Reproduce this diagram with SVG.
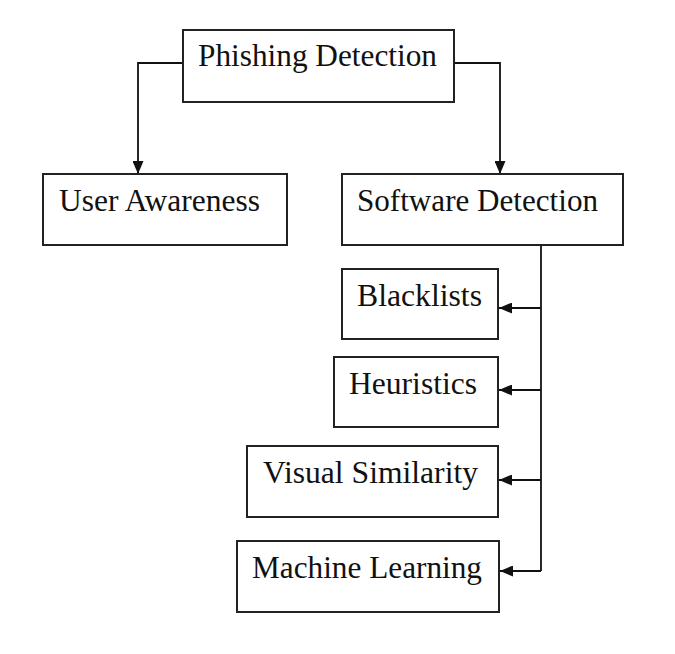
<svg xmlns="http://www.w3.org/2000/svg" width="675" height="654" viewBox="0 0 675 654">
<defs>
<marker id="ah" markerWidth="13" markerHeight="11" refX="13" refY="5.5" orient="auto" markerUnits="userSpaceOnUse">
<path d="M0,0 L13,5.5 L0,11 Z" fill="#111"/>
</marker>
<style>
.box{fill:#fff;stroke:#222;stroke-width:2}
.lbl{font-family:"Liberation Serif","Times New Roman",serif;font-size:32px;fill:#111}
.ln{fill:none;stroke:#111;stroke-width:1.8}
</style>
</defs>
<rect width="675" height="654" fill="#fff"/>
<g id="connectors">
<path class="ln" d="M183,63 H138 V174" marker-end="url(#ah)"/>
<path class="ln" d="M454,63 H500 V174" marker-end="url(#ah)"/>
<path class="ln" d="M541,245 V571"/>
<path class="ln" d="M541,308 H499" marker-end="url(#ah)"/>
<path class="ln" d="M541,390 H499" marker-end="url(#ah)"/>
<path class="ln" d="M541,480 H499" marker-end="url(#ah)"/>
<path class="ln" d="M541,571 H500" marker-end="url(#ah)"/>
</g>
<g id="phishing">
<rect class="box" x="183" y="30" width="271" height="72"/>
<text class="lbl" x="198" y="66" textLength="239" lengthAdjust="spacingAndGlyphs">Phishing Detection</text>
</g>
<g id="user">
<rect class="box" x="43" y="174" width="244" height="71"/>
<text class="lbl" x="59" y="211" textLength="201" lengthAdjust="spacingAndGlyphs">User Awareness</text>
</g>
<g id="software">
<rect class="box" x="342" y="174" width="281" height="71"/>
<text class="lbl" x="357" y="211" textLength="241" lengthAdjust="spacingAndGlyphs">Software Detection</text>
</g>
<g id="blacklists">
<rect class="box" x="342" y="269" width="156" height="70"/>
<text class="lbl" x="357" y="306" textLength="125" lengthAdjust="spacingAndGlyphs">Blacklists</text>
</g>
<g id="heuristics">
<rect class="box" x="334" y="357" width="164" height="70"/>
<text class="lbl" x="349" y="394" textLength="128" lengthAdjust="spacingAndGlyphs">Heuristics</text>
</g>
<g id="visual">
<rect class="box" x="247" y="446" width="251" height="71"/>
<text class="lbl" x="263" y="483" textLength="215" lengthAdjust="spacingAndGlyphs">Visual Similarity</text>
</g>
<g id="machine">
<rect class="box" x="237" y="541" width="262" height="71"/>
<text class="lbl" x="252" y="578" textLength="230" lengthAdjust="spacingAndGlyphs">Machine Learning</text>
</g>
</svg>
